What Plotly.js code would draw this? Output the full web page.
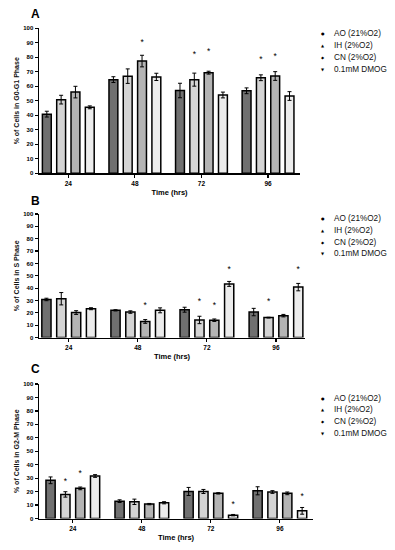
<!DOCTYPE html>
<html>
<head>
<meta charset="utf-8">
<script src="https://cdn.plot.ly/plotly-3.0.1.min.js"></script>
<style>html,body{margin:0;padding:0;background:#fff;}#chart{width:395px;height:550px;}</style>
</head>
<body>
<div id="chart"></div>
<script>
// ---- data ----
const timepoints = ['24', '48', '72', '96'];
const seriesNames = ['AO (21%O2)', 'IH (2%O2)', 'CN (2%O2)', '0.1mM DMOG'];
const legendSymbols = ['●', '▲', '◆', '▼'];
const seriesColors = ['#707070', '#d4d4d4', '#b4b4b4', '#ececec'];

// Panel A: G0-G1 phase
const g1AO   = [40.8, 64.6, 57.1, 56.9];
const g1IH   = [50.8, 67.0, 64.6, 65.9];
const g1CN   = [56.0, 77.4, 69.4, 67.1];
const g1DMOG = [45.5, 66.5, 54.0, 53.3];
const g1AOErr   = [2.0, 2.0, 5.0, 2.0];
const g1IHErr   = [3.0, 5.0, 4.5, 2.0];
const g1CNErr   = [4.0, 4.0, 1.0, 3.0];
const g1DMOGErr = [1.0, 2.5, 2.0, 3.0];
const g1StarAO   = [null, null, null, null];
const g1StarIH   = [null, null, 81.5, 78.0];
const g1StarCN   = [null, 90.0, 83.5, 80.5];
const g1StarDMOG = [null, null, null, null];

// Panel B: S phase
const sAO   = [30.8, 22.0, 22.5, 20.6];
const sIH   = [31.4, 20.6, 14.2, 16.1];
const sCN   = [20.2, 13.0, 14.0, 17.7];
const sDMOG = [23.3, 22.0, 43.4, 40.8];
const sAOErr   = [1.0, 0.5, 2.0, 3.0];
const sIHErr   = [5.0, 1.0, 3.0, 0.3];
const sCNErr   = [1.5, 1.5, 1.0, 1.0];
const sDMOGErr = [0.8, 2.0, 2.0, 3.0];
const sStarAO   = [null, null, null, null];
const sStarIH   = [null, null, 28.5, 28.5];
const sStarCN   = [null, 26.0, 26.0, null];
const sStarDMOG = [null, null, 55.0, 55.0];

// Panel C: G2-M phase
const g2AO   = [28.4, 12.9, 20.1, 20.6];
const g2IH   = [17.9, 12.4, 20.1, 19.7];
const g2CN   = [22.4, 10.7, 18.7, 18.7];
const g2DMOG = [31.6, 11.7, 2.5, 5.7];
const g2AOErr   = [2.5, 1.0, 3.0, 3.0];
const g2IHErr   = [2.0, 2.0, 1.5, 1.0];
const g2CNErr   = [1.0, 0.5, 0.5, 1.0];
const g2DMOGErr = [1.0, 0.8, 0.5, 2.5];
const g2StarAO   = [null, null, null, null];
const g2StarIH   = [27.5, null, null, null];
const g2StarCN   = [33.0, null, null, null];
const g2StarDMOG = [null, null, 10.0, 16.0];

const panelLetters = ['A', 'B', 'C'];
const yTitles = ['% of Cells in G0-G1 Phase', '% of Cells in S Phase', '% of Cells in G2-M Phase'];
const xTitle = 'Time (hrs)';
const yTickVals = [0, 10, 20, 30, 40, 50, 60, 70, 80, 90, 100];

// ---- build ----
const W = 395, H = 550;
const FONT = 'Liberation Sans, Arial, sans-serif';
const panels = [
  {vals: [g1AO, g1IH, g1CN, g1DMOG], errs: [g1AOErr, g1IHErr, g1CNErr, g1DMOGErr], stars: [g1StarAO, g1StarIH, g1StarCN, g1StarDMOG],
   xpx: [39, 300], ypx: [28.3, 173.3], range: [-0.44, 3.48], letter: [35, 14], legendTop: 34},
  {vals: [sAO, sIH, sCN, sDMOG], errs: [sAOErr, sIHErr, sCNErr, sDMOGErr], stars: [sStarAO, sStarIH, sStarCN, sStarDMOG],
   xpx: [39, 305], ypx: [214, 337.5], range: [-0.43, 3.42], letter: [35.5, 201], legendTop: 218.5},
  {vals: [g2AO, g2IH, g2CN, g2DMOG], errs: [g2AOErr, g2IHErr, g2CNErr, g2DMOGErr], stars: [g2StarAO, g2StarIH, g2StarCN, g2StarDMOG],
   xpx: [39, 313], ypx: [384, 518.5], range: [-0.49, 3.48], letter: [35, 369], legendTop: 398}
];

const traces = [];
const layout = {
  width: W, height: H,
  margin: {l: 0, r: 0, t: 0, b: 0},
  paper_bgcolor: '#ffffff', plot_bgcolor: '#ffffff',
  barmode: 'group', bargap: 0.14, bargroupgap: 0.38,
  scattermode: 'group', scattergap: 0.14,
  showlegend: false,
  font: {family: FONT, color: '#000'},
  annotations: []
};

panels.forEach((p, pi) => {
  const sfx = pi === 0 ? '' : String(pi + 1);
  const xa = 'x' + sfx, ya = 'y' + sfx;
  p.vals.forEach((v, si) => {
    traces.push({
      type: 'bar', x: timepoints, y: v, name: seriesNames[si],
      xaxis: xa, yaxis: ya,
      marker: {color: seriesColors[si], line: {color: '#000', width: 1.5}},
      error_y: {type: 'data', array: p.errs[si], visible: true, color: '#000', thickness: 1, width: 2},
      hoverinfo: 'skip'
    });
  });
  p.stars.forEach((s, si) => {
    traces.push({
      type: 'scatter', mode: 'text', x: timepoints, y: s, text: s.map(v => v === null ? '' : '*'),
      textposition: 'middle center', textfont: {family: FONT, size: 8.5, color: '#000'},
      xaxis: xa, yaxis: ya, cliponaxis: false, hoverinfo: 'skip', showlegend: false
    });
  });
  layout['xaxis' + sfx] = {
    domain: [p.xpx[0] / W, p.xpx[1] / W], anchor: ya,
    type: 'category', range: p.range,
    showline: true, linecolor: '#000', linewidth: 1.5,
    ticks: 'outside', ticklen: 3, tickwidth: 1.2, tickcolor: '#000',
    tickfont: {family: FONT, size: 6.5, color: '#000', weight: 'bold'},
    showgrid: false, zeroline: false, fixedrange: true,
    title: {text: xTitle, font: {family: FONT, size: 7.5, color: '#000', weight: 'bold'}, standoff: 4}
  };
  layout['yaxis' + sfx] = {
    domain: [1 - p.ypx[1] / H, 1 - p.ypx[0] / H], anchor: xa,
    range: [0, 100], tickvals: yTickVals,
    showline: true, linecolor: '#000', linewidth: 1.5,
    ticks: 'outside', ticklen: 3, tickwidth: 1.2, tickcolor: '#000',
    tickfont: {family: FONT, size: 6, color: '#000', weight: 'bold'},
    showgrid: false, zeroline: false, fixedrange: true,
    title: {text: yTitles[pi], font: {family: FONT, size: 7, color: '#111', weight: 'bold'}, standoff: 3}
  };
  layout.annotations.push({
    text: panelLetters[pi], xref: 'paper', yref: 'paper',
    x: p.letter[0] / W, y: 1 - p.letter[1] / H, xanchor: 'center', yanchor: 'middle',
    showarrow: false, font: {family: FONT, size: 12, color: '#000', weight: 'bold'}
  });
  seriesNames.forEach((nm, si) => {
    const yy = 1 - (p.legendTop + si * 11.8) / H;
    layout.annotations.push({
      text: legendSymbols[si], xref: 'paper', yref: 'paper', x: 323 / W, y: yy,
      xanchor: 'center', yanchor: 'middle', showarrow: false,
      font: {family: 'DejaVu Sans, sans-serif', size: 4, color: '#000'}
    });
    layout.annotations.push({
      text: nm, xref: 'paper', yref: 'paper', x: 332 / W, y: yy,
      xanchor: 'left', yanchor: 'middle', showarrow: false,
      font: {family: FONT, size: 8.2, color: '#111'}
    });
  });
});

Plotly.newPlot('chart', traces, layout, {staticPlot: true, displayModeBar: false});
</script>
</body>
</html>
